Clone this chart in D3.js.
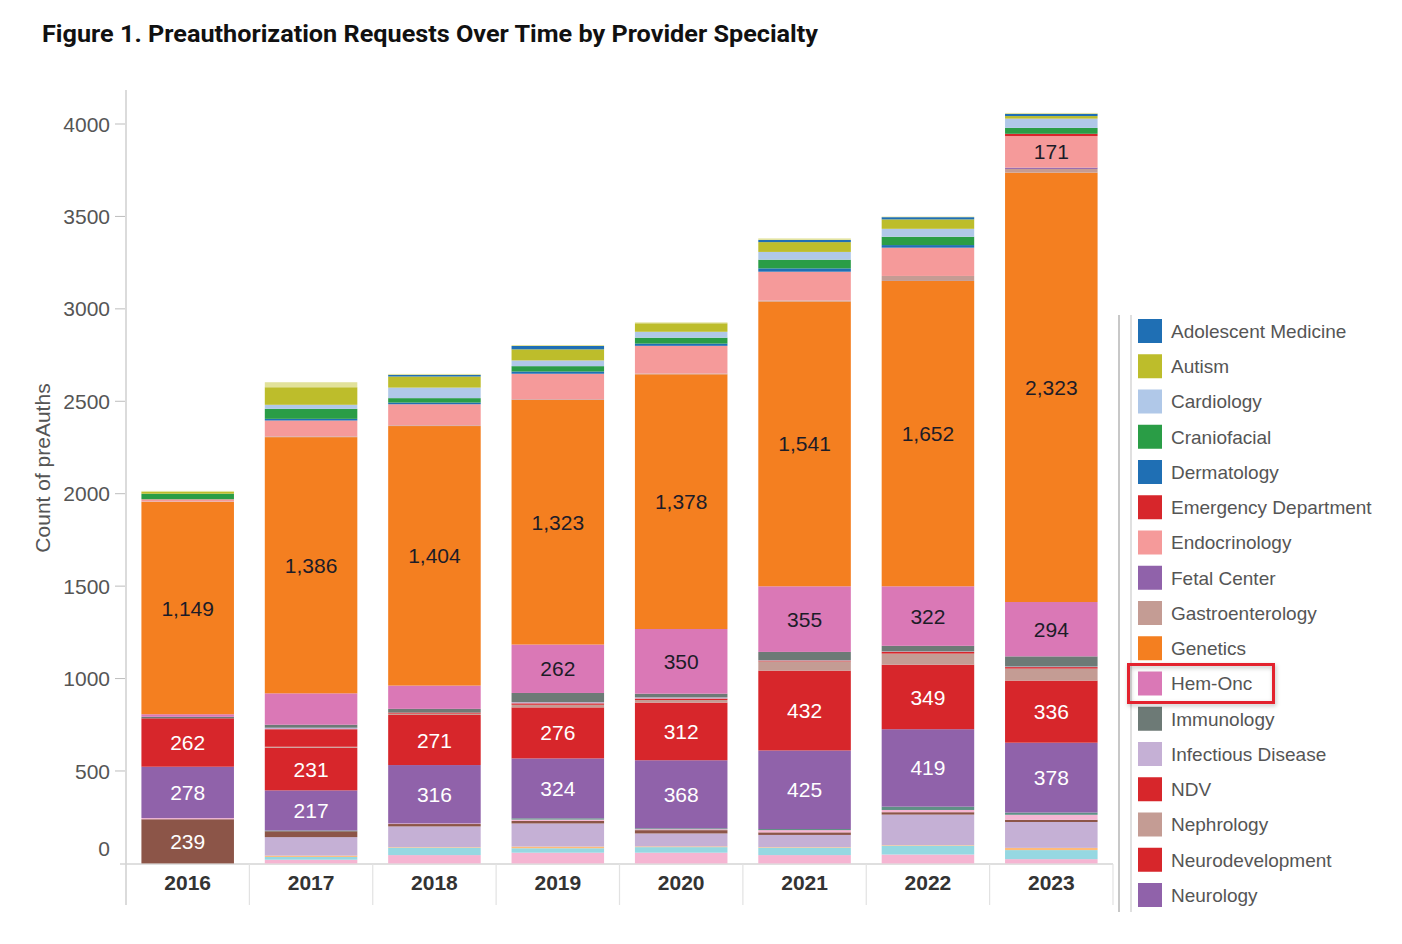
<!DOCTYPE html>
<html>
<head>
<meta charset="utf-8">
<script src="https://cdn.jsdelivr.net/npm/d3@7"></script>
<style>
  body { margin: 0; background: #fff; }
  text { font-family: "Liberation Sans", Arial, sans-serif; }
</style>
</head>
<body>
<svg id="chart" width="1402" height="944"></svg>
<script>
// years on the x axis
var years = ["2016", "2017", "2018", "2019", "2020", "2021", "2022", "2023"]
var yTicks = [0, 500, 1000, 1500, 2000, 2500, 3000, 3500, 4000]

// counts per specialty, one value per year
var unspecified        = [5, 27, 5, 5, 5, 8, 3, 5]
var adolescentMedicine = [0, 0, 9, 18, 0, 12, 12, 12]
var autism             = [10, 95, 60, 60, 46, 53, 51, 14]
var cardiology         = [0, 22, 57, 31, 32, 42, 43, 50]
var craniofacial       = [30, 54, 24, 29, 32, 47, 45, 32]
var dermatology        = [0, 9, 9, 12, 12, 18, 14, 0]
var emergencyDept      = [0, 0, 0, 0, 0, 0, 0, 12]
var endocrinology      = [12, 86, 114, 138, 150, 156, 153, 171]
var fetalCenter        = [0, 0, 0, 0, 0, 0, 0, 7]
var gastroenterology   = [2, 4, 4, 4, 4, 5, 27, 20]
var genetics           = [1149, 1386, 1404, 1323, 1378, 1541, 1652, 2323]
var hemOnc             = [14, 170, 126, 262, 350, 355, 322, 294]
var immunology         = [8, 16, 20, 50, 20, 45, 30, 55]
var infectiousDisease  = [0, 8, 0, 6, 6, 2, 2, 3]
var ndv                = [0, 95, 6, 8, 8, 4, 10, 8]
var nephrology         = [0, 5, 7, 14, 14, 50, 60, 65]
var neurodevelopment   = [262, 231, 271, 276, 312, 432, 349, 336]
var neurology          = [278, 217, 316, 324, 368, 425, 419, 378]
var neurosurgery       = [0, 4, 0, 7, 5, 6, 18, 12]
var ophthalmology      = [6, 0, 3, 7, 5, 12, 12, 27]
var orthopedics        = [239, 32, 13, 14, 18, 14, 13, 12]
var otolaryngology     = [0, 100, 112, 125, 70, 66, 165, 140]
var plasticSurgery     = [0, 7, 3, 9, 4, 3, 3, 12]
var pulmonology        = [0, 15, 40, 24, 30, 40, 48, 49]
var urology            = [0, 20, 45, 58, 58, 45, 48, 23]

// legend order (alphabetical); the stack runs the other way, bottom = last
var specialties = [
  ["Adolescent Medicine", adolescentMedicine],
  ["Autism", autism],
  ["Cardiology", cardiology],
  ["Craniofacial", craniofacial],
  ["Dermatology", dermatology],
  ["Emergency Department", emergencyDept],
  ["Endocrinology", endocrinology],
  ["Fetal Center", fetalCenter],
  ["Gastroenterology", gastroenterology],
  ["Genetics", genetics],
  ["Hem-Onc", hemOnc],
  ["Immunology", immunology],
  ["Infectious Disease", infectiousDisease],
  ["NDV", ndv],
  ["Nephrology", nephrology],
  ["Neurodevelopment", neurodevelopment],
  ["Neurology", neurology],
  ["Neurosurgery", neurosurgery],
  ["Ophthalmology", ophthalmology],
  ["Orthopedics", orthopedics],
  ["Otolaryngology", otolaryngology],
  ["Plastic Surgery", plasticSurgery],
  ["Pulmonology", pulmonology],
  ["Urology", urology],
  ["Unspecified", unspecified]
]

var palette = ["#1f6fb4", "#bdbd2b", "#b0c8e8", "#2a9d46", "#1f6fb4", "#d7262b",
  "#f59a9a", "#9062aa", "#c49c94", "#f47f20", "#da78b6", "#6d7a76", "#c5b0d5",
  "#d7262b", "#c49c94", "#d7262b", "#9062aa", "#5f8f86", "#f5b5d2", "#8c5548",
  "#c5b0d5", "#ffbb78", "#96d8e2", "#f5b5d2", "#e2e29a"]

var names = specialties.map(function(d) { return d[0] })
var color = d3.scaleOrdinal(names, palette)

// build rows for d3.stack
var table = years.map(function(yr, i) {
  var row = { year: yr }
  specialties.forEach(function([name, vals]) { row[name] = vals[i] })
  return row
})

// bottom -> top: reverse alphabetical, the unspecified sliver sits on top
var stackKeys = names.filter(function(n) { return n !== "Unspecified" }).reverse()
stackKeys.push("Unspecified")
var series = d3.stack().keys(stackKeys)(table)

var svg = d3.select("#chart")
svg.append("rect").attr("width", 1402).attr("height", 944).attr("fill", "#fff")

var x = d3.scaleBand().domain(years).range([126, 1113]).paddingInner(0.25).paddingOuter(0.125)
var y = d3.scaleLinear().domain([0, 4000]).range([863.4, 124])

// title
svg.append("text")
  .attr("x", 42).attr("y", 42)
  .attr("textLength", 776).attr("lengthAdjust", "spacingAndGlyphs")
  .style("font-family", "Roboto, 'Liberation Sans', Arial, sans-serif")
  .style("font-weight", 700).style("font-size", "24px").attr("fill", "#111")
  .text("Figure 1. Preauthorization Requests Over Time by Provider Specialty")

// axes lines
svg.append("line").attr("x1", 126).attr("x2", 126).attr("y1", 90).attr("y2", 905)
  .attr("stroke", "#cfcfcf").attr("stroke-width", 1.5)
svg.append("line").attr("x1", 120).attr("x2", 1113).attr("y1", 864).attr("y2", 864)
  .attr("stroke", "#d4d4d4").attr("stroke-width", 1.5)

var step = x.step()
d3.range(1, years.length + 1).forEach(function(k) {
  var sx = 126 + k * step
  svg.append("line").attr("x1", sx).attr("x2", sx).attr("y1", 864).attr("y2", 905)
    .attr("stroke", "#e2e2e2").attr("stroke-width", 1.2)
})

// y ticks
var yAxis = svg.append("g")
yAxis.selectAll("line").data(yTicks.filter(function(d) { return d > 0 })).enter()
  .append("line")
  .attr("x1", 115).attr("x2", 125)
  .attr("y1", function(d) { return y(d) }).attr("y2", function(d) { return y(d) })
  .attr("stroke", "#bdbdbd")
yAxis.selectAll("text").data(yTicks).enter()
  .append("text")
  .attr("x", 110)
  .attr("y", function(d) { return d === 0 ? y(d) - 15 : y(d) })
  .attr("dy", "0.36em")
  .attr("text-anchor", "end")
  .style("font-size", "21px").attr("fill", "#555")
  .text(function(d) { return d })

svg.append("text")
  .attr("transform", "translate(42,468) rotate(-90)")
  .attr("text-anchor", "middle").attr("dominant-baseline", "central")
  .style("font-size", "21px").attr("fill", "#555")
  .text("Count of preAuths")

// x labels
svg.append("g").selectAll("text").data(years).enter()
  .append("text")
  .attr("x", function(d) { return x(d) + x.bandwidth() / 2 })
  .attr("y", 890)
  .attr("text-anchor", "middle")
  .style("font-size", "21px").style("font-weight", 700).attr("fill", "#333")
  .text(function(d) { return d })

// bars
var layers = svg.append("g").selectAll("g").data(series).enter()
  .append("g").attr("fill", function(d) { return color(d.key) })

layers.selectAll("rect").data(function(d) { return d }).enter()
  .append("rect")
  .attr("x", function(d) { return x(d.data.year) })
  .attr("width", x.bandwidth())
  .attr("y", function(d) { return y(d[1]) })
  .attr("height", function(d) { return Math.max(0, y(d[0]) - y(d[1])) })

// value labels on the big segments
var fmt = d3.format(",")
var labels = []
series.forEach(function(s) {
  s.forEach(function(d) {
    var v = d[1] - d[0]
    if (v >= 171) labels.push({ key: s.key, year: d.data.year, v: v, mid: (d[0] + d[1]) / 2 })
  })
})
svg.append("g").selectAll("text").data(labels).enter()
  .append("text")
  .attr("x", function(d) { return x(d.year) + x.bandwidth() / 2 })
  .attr("y", function(d) { return y(d.mid) })
  .attr("dy", "0.36em")
  .attr("text-anchor", "middle")
  .style("font-size", "21px")
  .attr("fill", function(d) { return d3.lab(color(d.key)).l < 58 ? "#fff" : "#1c1c28" })
  .text(function(d) { return fmt(d.v) })

// legend (only the rows that fit inside the frame are shown)
var defs = svg.append("defs")
var shadow = defs.append("filter").attr("id", "shadow")
  .attr("x", "-10%").attr("y", "-20%").attr("width", "130%").attr("height", "160%")
shadow.append("feDropShadow").attr("dx", 1).attr("dy", 2).attr("stdDeviation", 2)
  .attr("flood-color", "#000").attr("flood-opacity", 0.25)

svg.append("line").attr("x1", 1119).attr("x2", 1119).attr("y1", 315).attr("y2", 912)
  .attr("stroke", "#c8c8c8").attr("stroke-width", 2)
svg.append("line").attr("x1", 1131).attr("x2", 1131).attr("y1", 315).attr("y2", 912)
  .attr("stroke", "#d6d6d6").attr("stroke-width", 1.5)

var rowH = 35.25
var legendNames = names.filter(function(n, i) {
  return n !== "Unspecified" && 331 + i * rowH + 12 <= 912
})
var legend = svg.append("g")
var items = legend.selectAll("g").data(legendNames).enter()
  .append("g")
  .attr("transform", function(d, i) { return "translate(1138," + (331 + i * rowH) + ")" })
items.append("rect")
  .attr("x", 0).attr("y", -12).attr("width", 24).attr("height", 24)
  .attr("fill", function(d) { return color(d) })
items.append("text")
  .attr("x", 33).attr("dy", "0.36em")
  .style("font-size", "19px").attr("fill", "#555")
  .text(function(d) { return d })

// highlight box round Hem-Onc
var hi = legendNames.indexOf("Hem-Onc")
svg.append("rect")
  .attr("x", 1128.5).attr("y", 331 + hi * rowH - 19)
  .attr("width", 145).attr("height", 38)
  .attr("fill", "none").attr("stroke", "#e3242f").attr("stroke-width", 3)
  .attr("filter", "url(#shadow)")
</script>
</body>
</html>
